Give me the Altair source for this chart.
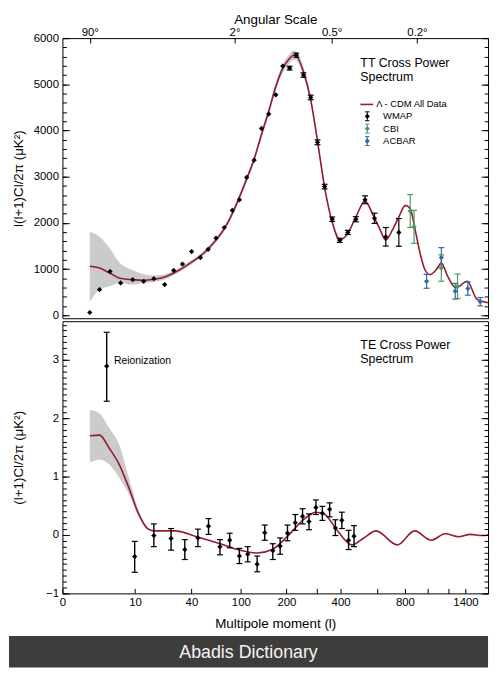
import altair as alt
import pandas as pd

FONT = "Liberation Sans"
RED = "#931c2d"
BAND = "#cbcbcb"
EXPS = ["WMAP", "CBI", "ACBAR"]
EXP_COLORS = ["#000000", "#4b9960", "#2f6aa3"]

W, H_TT, H_TE = 430, 283, 275
L_MIN, L_MAX, X_EXP = 0.483, 1692, 0.248

# ---------------- TT theory curve (Lambda-CDM) ----------------
tt_curve_l = [2, 3, 4.4, 6.1, 9.3, 12.8, 16.8, 22, 27.2, 33.1, 40.2, 48.1, 55.9, 64.8, 75.2,
              86.6, 97.7, 110, 124, 139, 155, 172, 190, 209, 220, 229, 252, 277, 302, 330,
              362, 396, 435, 477, 528, 575, 617, 659, 705, 753, 804, 843, 885, 927, 971,
              1016, 1079, 1130, 1197, 1286, 1421, 1544, 1692]
tt_curve_v = [1060, 1022, 915, 808, 771, 757, 778, 829, 915, 1022, 1151, 1286, 1436, 1629, 1871,
              2201, 2557, 2951, 3380, 3915, 4415, 4950, 5343, 5557, 5630, 5615, 5272, 4665, 3772, 2771,
              2021, 1629, 1772, 2128, 2471, 2180, 1879, 1629, 1843, 2128, 2379, 2308, 1843, 1344, 986,
              879, 986, 1129, 842, 594, 735, 343, 272]

# cosmic-variance band (TT)
tt_band_l = [2, 3, 4.4, 6.1, 9.3, 12.8, 16.8, 22, 27.2, 33.1, 40.2, 48.1, 55.9, 64.8, 75.2, 86.6,
             97.7, 110, 124, 139, 155, 172, 190, 209, 220, 229, 252, 277, 302, 330, 362, 396]
tt_band_lo = [285, 557, 628, 700, 664, 700, 720, 775, 865, 977, 1106, 1241, 1391, 1579, 1816, 2141,
              2492, 2881, 3305, 3835, 4330, 4860, 5248, 5457, 5530, 5515, 5177, 4580, 3697, 2711, 1971, 1584]
tt_band_hi = [1807, 1700, 1450, 1150, 980, 890, 860, 885, 960, 1067, 1196, 1331, 1481, 1679, 1926, 2261,
              2622, 3021, 3455, 3995, 4500, 5040, 5438, 5657, 5730, 5715, 5367, 4750, 3847, 2831, 2071, 1674]

# WMAP TT
wmap_tt_l = [2, 3, 4.45, 6.4, 9.35, 12.8, 16.8, 22, 27.2, 33.1, 40.2, 48.1, 55.9, 64.8, 75.2,
             86.6, 97.7, 110, 124, 139, 155, 172, 190, 209, 229, 252, 277, 302, 330, 362,
             396, 435, 477, 528, 585, 659, 753]
wmap_tt_v = [60, 557, 950, 700, 771, 735, 793, 664, 971, 1108, 1378, 1250, 1429, 1671, 1900,
             2272, 2500, 2985, 3358, 4044, 4357, 4772, 5394, 5351, 5630, 5201, 4715, 3744, 2786, 2079,
             1622, 1794, 2079, 2500, 2100, 1699, 1794]
wmap_tt_err = [0, 0, 0, 0, 0, 0, 0, 0, 0, 0, 10, 10, 12, 14, 16,
               18, 20, 22, 24, 28, 30, 32, 36, 40, 44, 48, 50, 52, 50, 48,
               45, 45, 55, 85, 110, 200, 300]
# CBI TT
cbi_l = [843, 875, 1130, 1306]
cbi_v = [2257, 1914, 1022, 628]
cbi_err = [357, 357, 286, 264]
# ACBAR TT
acbar_l = [986, 1130, 1280, 1428, 1586]
acbar_v = [735, 1250, 521, 579, 293]
acbar_err = [150, 214, 170, 143, 90]

# ---------------- TE ----------------
te_curve_l = [2, 3, 4.3, 6.1, 8.3, 11.1, 14.5, 17, 28, 43, 70, 98, 130, 163, 205,
              256, 296, 328, 384, 455, 517, 595, 741, 880, 1030, 1170, 1320, 1460, 1610, 1692]
te_curve_v = [1.70, 1.71, 1.49, 1.21, 0.81, 0.36, 0.10, 0.07, 0.07, -0.02, -0.15, -0.26, -0.31, -0.25, -0.01,
              0.28, 0.39, 0.36, 0.08, -0.17, -0.06, 0.07, -0.17, 0.07, -0.09, 0.02, -0.03, 0.01, -0.01, 0.0]
te_band_l = [2, 3, 4.3, 6.1, 8.3, 11.1, 14.5, 17]
te_band_lo = [1.24, 1.29, 1.21, 0.98, 0.70, 0.31, 0.08, 0.07]
te_band_hi = [2.14, 2.08, 1.83, 1.55, 0.98, 0.42, 0.12, 0.07]

te_l = [3.94, 9.9, 16.8, 25.6, 34.8, 45.7, 56.3, 69.6, 82.8, 97.7, 112, 130, 146, 164.6, 183,
        203, 226, 249, 271, 296, 321, 351, 376, 406, 439, 467]
te_v = [2.89, -0.37, -0.01, -0.06, -0.25, -0.05, 0.15, -0.20, -0.09, -0.36, -0.33, -0.50, 0.04, -0.27, -0.19,
        0.03, 0.21, 0.32, 0.23, 0.47, 0.37, 0.44, 0.12, 0.25, -0.09, -0.02]
te_lo = [2.29, -0.64, -0.20, -0.26, -0.42, -0.20, 0.01, -0.34, -0.22, -0.49, -0.46, -0.63, -0.09, -0.42, -0.33,
         -0.10, 0.08, 0.19, 0.09, 0.35, 0.25, 0.31, -0.01, 0.11, -0.25, -0.20]
te_hi = [3.47, -0.11, 0.19, 0.11, -0.08, 0.10, 0.28, -0.08, 0.03, -0.23, -0.20, -0.36, 0.17, -0.15, -0.05,
         0.17, 0.35, 0.45, 0.36, 0.60, 0.49, 0.55, 0.26, 0.39, 0.08, 0.16]

# axis ticks / labels
tt_major = [0, 1000, 2000, 3000, 4000, 5000, 6000]
tt_minor = list(range(0, 6001, 200))
te_major = [-1, 0, 1, 2, 3]
te_minor = [round(-1 + 0.1 * i, 1) for i in range(47)]
l_ticks = [L_MIN, 10, 40, 100, 200, 300, 400, 600, 800, 1000, 1200, 1400]
angle_ticks_l = [2, 90, 360, 900]   # l = 180 / theta

# ---------------- tables ----------------
tt_curve = pd.DataFrame({"l": tt_curve_l, "v": tt_curve_v})
tt_band = pd.DataFrame({"l": tt_band_l, "lo": tt_band_lo, "hi": tt_band_hi})
frames = []
for name, ls, vs, es in [("WMAP", wmap_tt_l, wmap_tt_v, wmap_tt_err),
                         ("CBI", cbi_l, cbi_v, cbi_err),
                         ("ACBAR", acbar_l, acbar_v, acbar_err)]:
    frames.append(pd.DataFrame({"l": ls, "v": vs,
                                "lo": [v - e for v, e in zip(vs, es)],
                                "hi": [v + e for v, e in zip(vs, es)],
                                "exp": name}))
tt_pts = pd.concat(frames, ignore_index=True)
te_curve = pd.DataFrame({"l": te_curve_l, "v": te_curve_v})
te_band = pd.DataFrame({"l": te_band_l, "lo": te_band_lo, "hi": te_band_hi})
te_pts = pd.DataFrame({"l": te_l, "v": te_v, "lo": te_lo, "hi": te_hi})
one = pd.DataFrame({"a": [0]})

# ---------------- scales & helpers ----------------
xscale = alt.Scale(type="pow", exponent=X_EXP, domain=[L_MIN, L_MAX], nice=False, zero=False)
tt_y = alt.Scale(domain=[-64, 6000], nice=False, zero=False)
te_y = alt.Scale(domain=[-1, 3.66], nice=False, zero=False)
color = alt.Color("exp:N", scale=alt.Scale(domain=EXPS, range=EXP_COLORS), legend=None)


def X(axis=None):
    return alt.X("l:Q", scale=xscale, axis=axis)


def Y(field, scale, axis=None):
    return alt.Y(field + ":Q", scale=scale, axis=axis)


def ax(orient, values, size, labels=False, title=None, **kw):
    d = dict(orient=orient, values=values, tickSize=size, offset=-size, domain=False,
             grid=False, labels=labels, ticks=True, tickColor="#000000", tickWidth=1,
             title=title, zindex=1, labelOverlap=False, labelFlush=False)
    if labels:
        d.update(labelFont=FONT, labelFontSize=11.5, labelColor="#000000", labelPadding=4)
    if title:
        d.update(titleFont=FONT, titleFontSize=13.5, titleFontWeight="normal", titleColor="#000000")
    d.update(kw)
    return alt.Axis(**d)


def x_axis_layer(df, axis):
    return alt.Chart(df).mark_point(opacity=0).encode(x=alt.X("l:Q", scale=xscale, axis=axis))


def y_axis_layer(df, scale, axis):
    return alt.Chart(df).mark_point(opacity=0).encode(y=alt.Y("v:Q", scale=scale, axis=axis))


def label(text, x, y, size, align="left", baseline="middle", col="#000000", lh=None):
    kw = dict(text=text, align=align, baseline=baseline, font=FONT, fontSize=size, color=col)
    if lh:
        kw["lineHeight"] = lh
    return alt.Chart(one).mark_text(**kw).encode(x=alt.value(x), y=alt.value(y))


GLYPH = "M-0.5,-1H0.5M0,-1V1M-0.5,1H0.5M0,-0.5L0.45,0L0,0.5L-0.45,0Z"

# ---------------- TT panel ----------------
tt_layers = [
    alt.Chart(tt_band).mark_area(color=BAND, interpolate="monotone").encode(
        x=X(), y=Y("lo", tt_y), y2="hi:Q"),
    alt.Chart(tt_curve).mark_line(color=RED, strokeWidth=1.6, interpolate="monotone").encode(
        x=X(), y=Y("v", tt_y)),
    alt.Chart(tt_pts).mark_rule(strokeWidth=1.2).encode(
        x=X(), y=Y("lo", tt_y), y2="hi:Q", color=color),
    alt.Chart(tt_pts).transform_filter("datum.hi - datum.lo >= 80").mark_point(
        shape="stroke", size=36, strokeWidth=1.2, opacity=1).encode(x=X(), y=Y("lo", tt_y), color=color),
    alt.Chart(tt_pts).transform_filter("datum.hi - datum.lo >= 80").mark_point(
        shape="stroke", size=36, strokeWidth=1.2, opacity=1).encode(x=X(), y=Y("hi", tt_y), color=color),
    alt.Chart(tt_pts).mark_point(shape="diamond", filled=True, size=28, opacity=1).encode(
        x=X(), y=Y("v", tt_y), color=color),
    label(["TT Cross Power", "Spectrum"], 301, 19, 12.5, baseline="top", lh=14),
    alt.Chart(one).mark_rule(color=RED, strokeWidth=1.6).encode(
        x=alt.value(301), x2=alt.value(314), y=alt.value(67)),
    label("\u039b - CDM All Data", 317, 67, 9.5),
]
for i, (name, c) in enumerate(zip(EXPS, EXP_COLORS)):
    gy = 79 + 12.5 * i
    tt_layers.append(alt.Chart(one).mark_point(shape=GLYPH, filled=True, fill=c, stroke=c,
                                               strokeWidth=1, size=81, opacity=1).encode(
        x=alt.value(308), y=alt.value(gy)))
    tt_layers.append(label(name, 324, gy, 9.5))

tt_layers += [
    y_axis_layer(tt_curve, tt_y, ax("left", tt_major, 7, labels=True, format="d",
                                    title="l(l+1)Cl/2\u03c0 (\u03bcK\u00b2)",
                                    minExtent=39, maxExtent=39, titlePadding=5)),
    y_axis_layer(tt_curve, tt_y, ax("left", tt_minor, 4)),
    y_axis_layer(tt_curve, tt_y, ax("right", tt_major, 7)),
    y_axis_layer(tt_curve, tt_y, ax("right", tt_minor, 4)),
    x_axis_layer(tt_curve, ax("top", angle_ticks_l, 5, labels=True, title="Angular Scale",
                              labelExpr="format(180 / datum.value, '') + '\u00b0'",
                              labelPadding=1, titlePadding=0)),
]
tt_panel = alt.layer(*tt_layers).resolve_axis(x="independent", y="independent").properties(
    width=W, height=H_TT)

# ---------------- TE panel ----------------
te_layers = [
    alt.Chart(te_band).mark_area(color=BAND, interpolate="monotone").encode(
        x=X(), y=Y("lo", te_y), y2="hi:Q"),
    alt.Chart(te_curve).mark_line(color=RED, strokeWidth=1.6, interpolate="monotone").encode(
        x=X(), y=Y("v", te_y)),
    alt.Chart(te_pts).mark_rule(strokeWidth=1.4, color="#000000").encode(
        x=X(), y=Y("lo", te_y), y2="hi:Q"),
    alt.Chart(te_pts).mark_point(shape="stroke", size=36, strokeWidth=1.2, opacity=1,
                                 color="#000000").encode(x=X(), y=Y("lo", te_y)),
    alt.Chart(te_pts).mark_point(shape="stroke", size=36, strokeWidth=1.2, opacity=1,
                                 color="#000000").encode(x=X(), y=Y("hi", te_y)),
    alt.Chart(te_pts).mark_point(shape="diamond", filled=True, size=28, opacity=1,
                                 color="#000000").encode(x=X(), y=Y("v", te_y)),
    label(["TE Cross Power", "Spectrum"], 301, 18, 12.5, baseline="top", lh=14),
    label("Reionization", 52, 40, 10.5),
    # watermark banner
    alt.Chart(one).mark_rect(color="#3f3c3c").encode(
        x=alt.value(-54), x2=alt.value(W), y=alt.value(318), y2=alt.value(350)),
    label("Abadis Dictionary", 188, 335, 18, align="center", col="#f4f4f4"),
    y_axis_layer(te_curve, te_y, ax("left", te_major, 7, labels=True,
                                    title="(l+1)Cl/2\u03c0 (\u03bcK\u00b2)",
                                    minExtent=39, maxExtent=39, titlePadding=5)),
    y_axis_layer(te_curve, te_y, ax("left", te_minor, 4)),
    y_axis_layer(te_curve, te_y, ax("right", te_major, 7)),
    y_axis_layer(te_curve, te_y, ax("right", te_minor, 4)),
    x_axis_layer(te_curve, ax("bottom", l_ticks, 5, labels=True, title="Multipole moment (l)",
                              format="d",
                              labelExpr="indexof([300, 600, 1000, 1200], datum.value) >= 0 ? '' : datum.label",
                              labelPadding=3, titlePadding=9)),
]
te_panel = alt.layer(*te_layers).resolve_axis(x="independent", y="independent").properties(
    width=W, height=H_TE)

chart = alt.vconcat(tt_panel, te_panel, spacing=3, bounds="flush").properties(
    padding={"left": 0, "top": 0, "right": 0, "bottom": 0}
).configure(font=FONT).configure_view(stroke="#000000", strokeWidth=1)

chart.save("out.html", embed_options={"renderer": "svg", "actions": False})
